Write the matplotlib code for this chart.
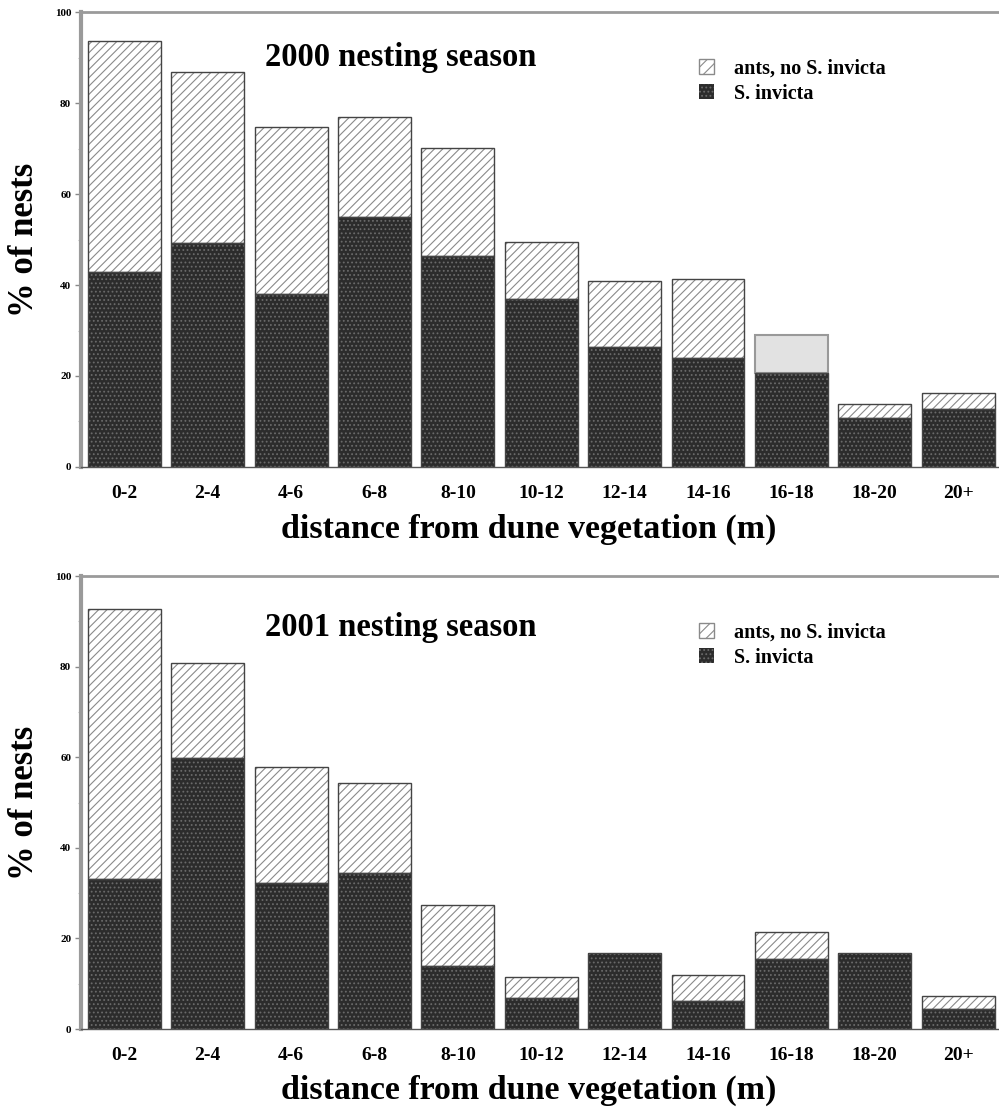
import numpy as np
import matplotlib
matplotlib.use('Agg')
import matplotlib.pyplot as plt
from matplotlib.patches import Patch

plt.rcParams['font.family'] = ['Liberation Serif', 'DejaVu Serif']
plt.rcParams['font.weight'] = 'bold'
plt.rcParams['hatch.linewidth'] = 0.8

categories = ['0-2', '2-4', '4-6', '6-8', '8-10', '10-12', '12-14', '14-16', '16-18', '18-20', '20+']

# % of nests
s_invicta_2000 = [42.9, 49.2, 38.0, 54.9, 46.4, 36.9, 26.4, 24.0, 20.7, 10.8, 12.7]
no_invicta_2000 = [50.7, 37.6, 36.7, 22.0, 23.7, 12.6, 14.5, 17.3, 8.3, 3.0, 3.6]

s_invicta_2001 = [33.1, 59.9, 32.3, 34.5, 13.9, 6.9, 16.8, 6.2, 15.5, 16.8, 4.4]
no_invicta_2001 = [59.7, 21.0, 25.6, 19.9, 13.5, 4.6, 0.0, 5.7, 5.9, 0.0, 2.9]

titles = ['2000 nesting season', '2001 nesting season']
legend_labels = ['ants, no S. invicta', 'S. invicta']

dark = '#2c2c2c'
dot_col = '#6a6a6a'
hatch_col = '#8a8a8a'
outline = '#444444'

fig = plt.figure(figsize=(9.99, 11.14), dpi=100)
ax1 = fig.add_axes([0.081, 0.5808, 0.919, 0.4084])
ax2 = fig.add_axes([0.081, 0.0763, 0.919, 0.4066])

x = np.arange(len(categories))
w = 0.875


def draw(ax, s_vals, n_vals, title, title_y, gray_idx=None):
    s_vals = np.array(s_vals)
    n_vals = np.array(n_vals)
    # dark stippled part
    ax.bar(x, s_vals, w, color=dark, edgecolor=dot_col, hatch='....', linewidth=0, zorder=2)
    ax.bar(x, s_vals, w, fill=False, edgecolor=outline, linewidth=1.0, zorder=3)
    # hatched upper part
    for i in range(len(x)):
        if n_vals[i] <= 0:
            continue
        if i == gray_idx:
            ax.bar(x[i], n_vals[i], w, bottom=s_vals[i], color='#e2e2e2',
                   edgecolor='#999999', linewidth=1.5, zorder=2)
        else:
            ax.bar(x[i], n_vals[i], w, bottom=s_vals[i], color='white',
                   edgecolor=hatch_col, hatch='////', linewidth=0, zorder=2)
            ax.bar(x[i], n_vals[i], w, bottom=s_vals[i], fill=False,
                   edgecolor=outline, linewidth=1.0, zorder=3)

    ax.set_xlim(-0.52, 10.49)
    ax.set_ylim(0, 100)
    ax.set_yticks([0, 20, 40, 60, 80, 100])
    ax.set_yticks([10, 30, 50, 70, 90], minor=True)
    ax.tick_params(axis='y', which='major', labelsize=8, length=4, width=1, color='#888888', pad=3)
    ax.tick_params(axis='y', which='minor', length=2, width=0.8, color='#bbbbbb')
    ax.set_xticks(x)
    ax.set_xticklabels(categories, fontsize=14, fontweight='bold')
    ax.tick_params(axis='x', length=0, pad=13)

    ax.spines['left'].set_color('#9a9a9a')
    ax.spines['left'].set_linewidth(3)
    ax.spines['top'].set_color('#9a9a9a')
    ax.spines['top'].set_linewidth(2)
    ax.spines['right'].set_visible(False)
    ax.spines['bottom'].set_color('#555555')
    ax.spines['bottom'].set_linewidth(1)

    ax.set_ylabel('% of nests', fontsize=25, fontweight='bold', labelpad=10)
    ax.set_xlabel('distance from dune vegetation (m)', fontsize=24.5, fontweight='bold')
    ax.xaxis.set_label_coords(0.488, -0.102)

    ax.text(0.2, title_y, title, transform=ax.transAxes, fontsize=23.5,
            fontweight='bold', va='center', ha='left')

    handles = [Patch(facecolor='white', edgecolor=hatch_col, hatch='///', linewidth=1),
               Patch(facecolor=dark, edgecolor=dot_col, hatch='....', linewidth=0)]
    leg = ax.legend(handles, legend_labels, loc='upper left', bbox_to_anchor=(0.664, 0.915),
                    frameon=False, fontsize=14.5, handlelength=0.75, handleheight=0.75,
                    handletextpad=1.0, labelspacing=0.25, borderaxespad=0)
    for t in leg.get_texts():
        t.set_fontweight('bold')


draw(ax1, s_invicta_2000, no_invicta_2000, titles[0], 0.90, gray_idx=8)
draw(ax2, s_invicta_2001, no_invicta_2001, titles[1], 0.887)

fig.savefig('out.png', dpi=100)
